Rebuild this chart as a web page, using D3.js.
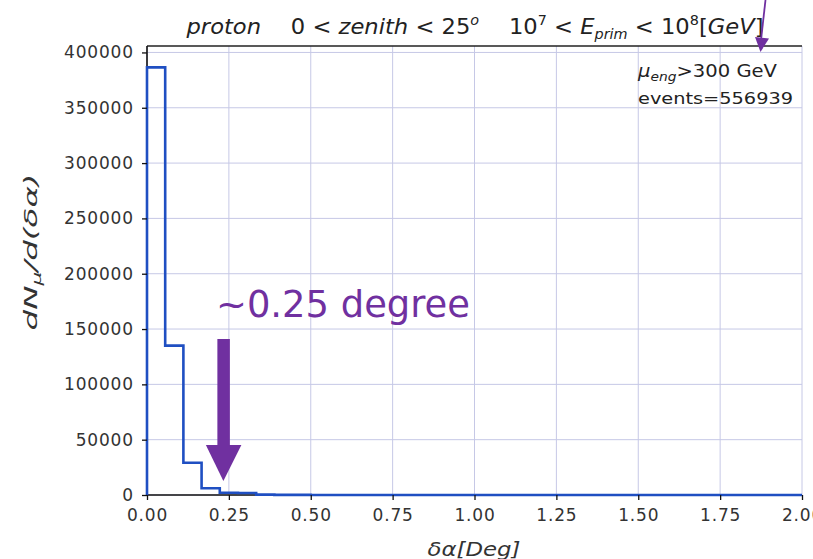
<!DOCTYPE html>
<html>
<head>
<meta charset="utf-8">
<script src="https://cdn.jsdelivr.net/npm/d3@7"></script>
<style>
  html, body { margin: 0; padding: 0; background: #fff; }
  svg { display: block; }
  text { font-family: "DejaVu Sans", sans-serif; }
</style>
</head>
<body>
<svg id="chart" width="813" height="559"></svg>
<script>
// Histogram of muon angular deviation, 36 bins of width 1/18 deg over [0, 2]
const binWidth = 1 / 18;
const counts = [
  386500, 135000, 29200, 6100, 2000, 1800, 300, 150, 80, 50, 30, 20,
  15, 10, 10, 5, 5, 5, 2, 2, 2, 1, 1, 1,
  0, 0, 0, 0, 0, 0, 0, 0, 0, 0, 0, 0
];
const xTicks = [0, 0.25, 0.5, 0.75, 1.0, 1.25, 1.5, 1.75, 2.0];
const yTicks = [0, 50000, 100000, 150000, 200000, 250000, 300000, 350000, 400000];
const nEvents = 556939;
const muEnergyCut = 300;
const noteValue = 0.25;

const svg = d3.select("#chart");
const plotL = 147, plotR = 802, plotT = 46, plotB = 495;

const x = d3.scaleLinear().domain([0, 2]).range([plotL, plotR]);
const y = d3.scaleLinear().domain([0, d3.max(counts) * 1.05]).range([plotB, plotT]);

// grid
const grid = svg.append("g").attr("stroke", "#c6c8e6").attr("stroke-width", 1);
grid.selectAll("line.v").data(xTicks).join("line")
  .attr("x1", d => x(d)).attr("x2", d => x(d))
  .attr("y1", plotT).attr("y2", plotB);
grid.selectAll("line.h").data(yTicks).join("line")
  .attr("x1", plotL).attr("x2", plotR)
  .attr("y1", d => y(d)).attr("y2", d => y(d));

// spines
svg.append("line").attr("x1", plotL).attr("x2", plotR).attr("y1", plotT).attr("y2", plotT)
  .attr("stroke", "#222").attr("stroke-width", 1.4);
svg.append("line").attr("x1", plotL).attr("x2", plotL).attr("y1", plotT).attr("y2", plotB)
  .attr("stroke", "#111").attr("stroke-width", 1.6);
svg.append("line").attr("x1", plotL).attr("x2", x(0.42)).attr("y1", plotB).attr("y2", plotB)
  .attr("stroke", "#111").attr("stroke-width", 1.4);

// step outline of the histogram
const pts = [[0, 0]];
counts.forEach((c, i) => {
  pts.push([i * binWidth, c]);
  pts.push([(i + 1) * binWidth, c]);
});
pts.push([counts.length * binWidth, 0]);
svg.append("path")
  .attr("d", d3.line().x(d => x(d[0])).y(d => y(d[1]))(pts))
  .attr("fill", "none")
  .attr("stroke", "#1f4fc2")
  .attr("stroke-width", 2.6)
  .attr("stroke-linejoin", "miter");

// axes
const xAxis = svg.append("g").attr("transform", `translate(0,${plotB})`)
  .call(d3.axisBottom(x).tickValues(xTicks).tickFormat(d3.format(".2f")).tickSize(5).tickPadding(9));
const yAxis = svg.append("g").attr("transform", `translate(${plotL},0)`)
  .call(d3.axisLeft(y).tickValues(yTicks).tickFormat(d3.format("d")).tickSize(5).tickPadding(9));
[xAxis, yAxis].forEach(a => {
  a.select(".domain").remove();
  a.selectAll(".tick line").attr("stroke", "#111").attr("stroke-width", 1.3);
  a.selectAll(".tick text")
    .attr("fill", "#333")
    .style("font-family", "DejaVu Sans, sans-serif")
    .style("font-size", "17px")
    .style("letter-spacing", "0.8px");
});
yAxis.selectAll(".tick text").attr("dx", "0.8px");

// title
const title = svg.append("text")
  .attr("x", 475).attr("y", 34)
  .attr("text-anchor", "middle")
  .attr("font-size", 22)
  .attr("fill", "#222")
  .attr("textLength", 577)
  .attr("lengthAdjust", "spacingAndGlyphs");
title.append("tspan").attr("font-style", "italic").text("proton");
title.append("tspan").text("\u2003 0 < ");
title.append("tspan").attr("font-style", "italic").text("zenith");
title.append("tspan").text(" < 25");
title.append("tspan").attr("font-size", 14).attr("dy", -9).attr("font-style", "italic").text("o");
title.append("tspan").attr("dy", 9).text("\u2003 10");
title.append("tspan").attr("font-size", 14).attr("dy", -9).text("7");
title.append("tspan").attr("dy", 9).text(" < ");
title.append("tspan").attr("font-style", "italic").text("E");
title.append("tspan").attr("font-size", 14).attr("dy", 5).attr("font-style", "italic").text("prim");
title.append("tspan").attr("dy", -5).text(" < 10");
title.append("tspan").attr("font-size", 14).attr("dy", -9).text("8");
title.append("tspan").attr("dy", 9).text("[");
title.append("tspan").attr("font-style", "italic").text("GeV");
title.append("tspan").text("]");

// axis labels
const xl = svg.append("text")
  .attr("x", 474).attr("y", 556)
  .attr("text-anchor", "middle")
  .attr("font-size", 20).attr("font-style", "italic").attr("fill", "#333")
  .attr("textLength", 93).attr("lengthAdjust", "spacingAndGlyphs");
xl.append("tspan").text("\u03b4\u03b1[Deg]");

const yl = svg.append("text")
  .attr("transform", "translate(37,252) rotate(-90)")
  .attr("text-anchor", "middle")
  .attr("font-size", 18).attr("font-style", "italic").attr("fill", "#333")
  .attr("textLength", 157).attr("lengthAdjust", "spacingAndGlyphs");
yl.append("tspan").text("dN");
yl.append("tspan").attr("font-size", 12).attr("dy", 4).text("\u03bc");
yl.append("tspan").attr("dy", -4).text("/d(\u03b4\u03b1)");

// info box
const info1 = svg.append("text").attr("x", 638).attr("y", 77)
  .attr("font-size", 17).attr("fill", "#222")
  .attr("textLength", 139).attr("lengthAdjust", "spacingAndGlyphs");
info1.append("tspan").attr("font-style", "italic").text("\u03bc");
info1.append("tspan").attr("font-style", "italic").attr("font-size", 12).attr("dy", 4).text("eng");
info1.append("tspan").attr("dy", -4).text(`>${muEnergyCut} GeV`);
svg.append("text").attr("x", 638).attr("y", 104)
  .attr("font-size", 16).attr("fill", "#222")
  .attr("textLength", 155).attr("lengthAdjust", "spacingAndGlyphs")
  .text(`events=${nEvents}`);

// note marking the ~0.25 degree width
const purple = "#7030a0";
svg.append("text")
  .attr("x", 216).attr("y", 317)
  .attr("font-family", "Lato, 'Open Sans', sans-serif")
  .attr("font-size", 38)
  .attr("fill", purple)
  .attr("textLength", 254).attr("lengthAdjust", "spacingAndGlyphs")
  .text(`~${noteValue.toFixed(2)} degree`);
const ax = x(noteValue) - 5.5;
svg.append("rect")
  .attr("x", ax - 6).attr("y", 339).attr("width", 12.5).attr("height", 108)
  .attr("fill", purple);
svg.append("path")
  .attr("d", `M${ax - 17.5},445 L${ax + 18},445 L${ax},481 Z`)
  .attr("fill", purple);

// pointer at the top right
svg.append("line")
  .attr("x1", 765.5).attr("y1", 0).attr("x2", 761).attr("y2", 40)
  .attr("stroke", purple).attr("stroke-width", 1.8);
svg.append("path")
  .attr("d", "M755,37 L769,38.5 L760.5,52 Z")
  .attr("fill", purple);
</script>
</body>
</html>
